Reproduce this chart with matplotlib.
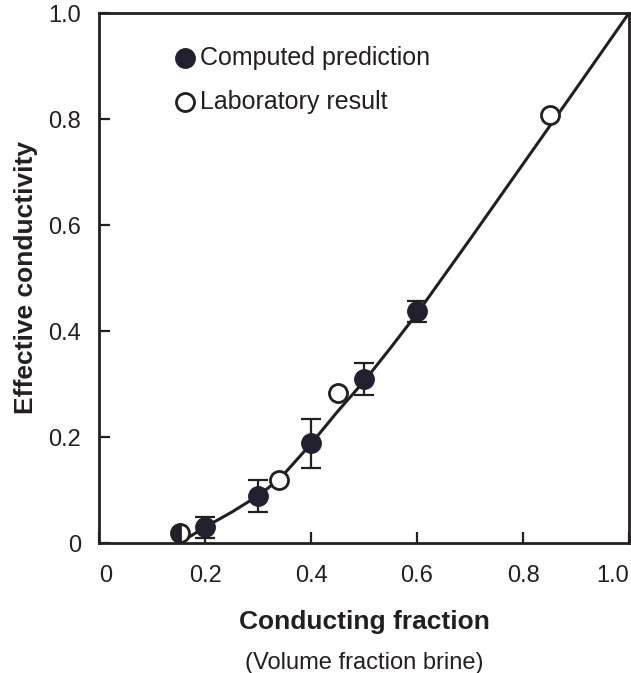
import matplotlib.pyplot as plt
import matplotlib

matplotlib.rcParams['font.family'] = ['Liberation Sans', 'DejaVu Sans']

ink = '#231f20'
dot = '#221f2e'

# computed prediction (filled, with error bars)
comp_x = [0.2, 0.3, 0.4, 0.5, 0.6]
comp_y = [0.030, 0.088, 0.188, 0.310, 0.437]
comp_err = [0.020, 0.030, 0.046, 0.030, 0.020]

# laboratory result (open circles)
lab_x = [0.34, 0.45, 0.85]
lab_y = [0.119, 0.283, 0.808]

# point where both coincide (half filled)
both_x = [0.153]
both_y = [0.019]

# fitted curve
curve_x = [0.16, 0.20, 0.25, 0.30, 0.34, 0.40, 0.45, 0.50, 0.55, 0.60, 0.70, 0.80, 0.90, 1.00]
curve_y = [0.005, 0.030, 0.058, 0.089, 0.120, 0.187, 0.248, 0.305, 0.368, 0.433, 0.573, 0.715, 0.857, 1.00]

xticks = [0, 0.2, 0.4, 0.6, 0.8, 1.0]
xtick_labels = ['0', '0.2', '0.4', '0.6', '0.8', '1.0']
yticks = [0, 0.2, 0.4, 0.6, 0.8, 1.0]
ytick_labels = ['0', '0.2', '0.4', '0.6', '0.8', '1.0']

fig = plt.figure(figsize=(6.31, 6.73), dpi=100)
ax = fig.add_axes([99/631, 130/673, 530/631, 530/673])

ax.plot(curve_x, curve_y, color=ink, lw=2.2, zorder=2)

ax.errorbar(comp_x, comp_y, yerr=comp_err, fmt='o', ms=14, color=dot,
            mfc=dot, mec=dot, ecolor=ink, elinewidth=1.6, capsize=7,
            capthick=1.6, zorder=3)
ax.plot(lab_x, lab_y, 'o', ms=13, mfc='white', mec=ink, mew=2, zorder=4)
ax.plot(both_x, both_y, 'o', ms=13, fillstyle='left', mfc=dot,
        markerfacecoloralt='white', mec=ink, mew=2, zorder=4)

# legend drawn by hand
ax.plot([0.162], [0.915], 'o', ms=14, mfc=dot, mec=dot, zorder=5)
ax.plot([0.162], [0.832], 'o', ms=13, mfc='white', mec=ink, mew=2, zorder=5)
ax.text(0.19, 0.915, 'Computed prediction', fontsize=18, color=ink, va='center')
ax.text(0.19, 0.832, 'Laboratory result', fontsize=18, color=ink, va='center')

ax.set_xlim(0, 1.0)
ax.set_ylim(0, 1.0)
ax.set_xticks(xticks)
ax.set_xticklabels(xtick_labels)
ax.set_yticks(yticks)
ax.set_yticklabels(ytick_labels)
ax.tick_params(direction='in', length=8, width=1.6, labelsize=17,
               labelcolor=ink, color=ink)
ax.tick_params(axis='x', pad=16)
ax.tick_params(axis='y', pad=13)
xl = ax.get_xticklabels()
xl[0].set_ha('left')
xl[-1].set_ha('right')

for s in ax.spines.values():
    s.set_linewidth(2)
    s.set_color(ink)

ax.set_ylabel('Effective conductivity', fontsize=19, fontweight='bold', color=ink)
ax.yaxis.set_label_coords(-0.115, 0.5)
fig.text(364/631, 1 - 622/673, 'Conducting fraction', fontsize=19,
         fontweight='bold', color=ink, ha='center', va='center')
fig.text(364/631, 1 - 663/673, '(Volume fraction brine)', fontsize=17,
         color=ink, ha='center', va='center')

fig.savefig('out.png', dpi=100)
